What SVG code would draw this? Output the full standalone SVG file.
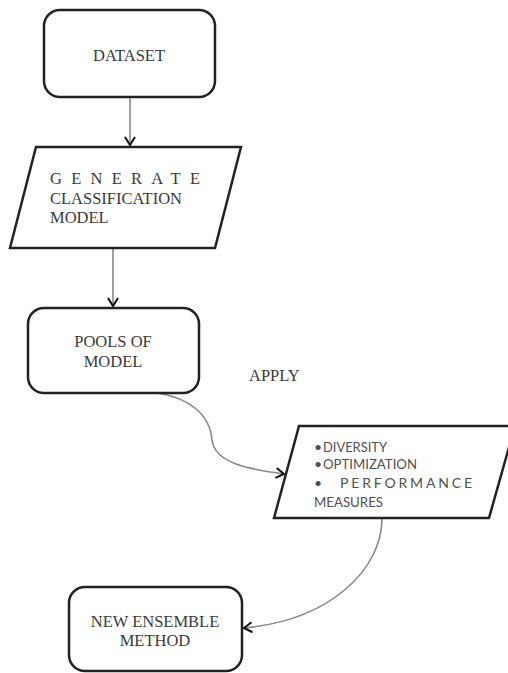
<svg xmlns="http://www.w3.org/2000/svg" width="508" height="673" viewBox="0 0 508 673">
<style>
.box{fill:#fff;stroke:#222;stroke-width:2.5}
.serif{font-family:'Liberation Serif','Times New Roman',serif;font-size:16.5px;fill:#3a3a3a}
.sans{font-family:Lato,'Open Sans',sans-serif;font-size:14px;fill:#505050}
.conn{fill:none;stroke:#888;stroke-width:1.6}
</style>
<defs>
<marker id="arr" markerWidth="12" markerHeight="12" refX="10" refY="6" orient="auto" markerUnits="userSpaceOnUse">
<path d="M2,1 L10,6 L2,11" fill="none" stroke="#111" stroke-width="2"/>
</marker>
</defs>
<rect width="508" height="673" fill="#fff"/>
<g id="connectors">
<line class="conn" x1="130" y1="97" x2="130" y2="145" marker-end="url(#arr)"/>
<line class="conn" x1="113" y1="248" x2="113" y2="306" marker-end="url(#arr)"/>
<path class="conn" d="M157,393 C190,398 210,415 212,440 C215,465 255,470 284,474" marker-end="url(#arr)"/>
<path class="conn" d="M382,518 C382,570 330,620 244,628" marker-end="url(#arr)"/>
</g>
<g id="dataset">
<rect class="box" x="44" y="10" width="171" height="87" rx="16"/>
<text class="serif" x="129" y="61" text-anchor="middle">DATASET</text>
</g>
<g id="generate">
<polygon class="box" points="36,147 241,147 215,248 10,248"/>
<text class="serif" x="50" y="184" textLength="150" lengthAdjust="spacing">GENERATE</text>
<text class="serif" x="50" y="204">CLASSIFICATION</text>
<text class="serif" x="50" y="223">MODEL</text>
</g>
<g id="pools">
<rect class="box" x="28" y="308" width="171" height="85" rx="16"/>
<text class="serif" x="113" y="347" text-anchor="middle">POOLS OF</text>
<text class="serif" x="113" y="367" text-anchor="middle">MODEL</text>
</g>
<text class="serif" x="249" y="381">APPLY</text>
<g id="measures">
<polygon class="box" points="299,426 515,426 489,518 274,518"/>
<text class="sans" x="314" y="452">•</text>
<text class="sans" x="323" y="452" textLength="64" lengthAdjust="spacingAndGlyphs">DIVERSITY</text>
<text class="sans" x="314" y="469">•</text>
<text class="sans" x="323" y="469" textLength="94" lengthAdjust="spacingAndGlyphs">OPTIMIZATION</text>
<text class="sans" x="314" y="488">•</text>
<text class="sans" x="340" y="488" textLength="132" lengthAdjust="spacing">PERFORMANCE</text>
<text class="sans" x="314" y="507" textLength="69" lengthAdjust="spacingAndGlyphs">MEASURES</text>
</g>
<g id="ensemble">
<rect class="box" x="69" y="587" width="173" height="84" rx="16"/>
<text class="serif" x="155" y="627" text-anchor="middle">NEW ENSEMBLE</text>
<text class="serif" x="155" y="646" text-anchor="middle">METHOD</text>
</g>
</svg>
